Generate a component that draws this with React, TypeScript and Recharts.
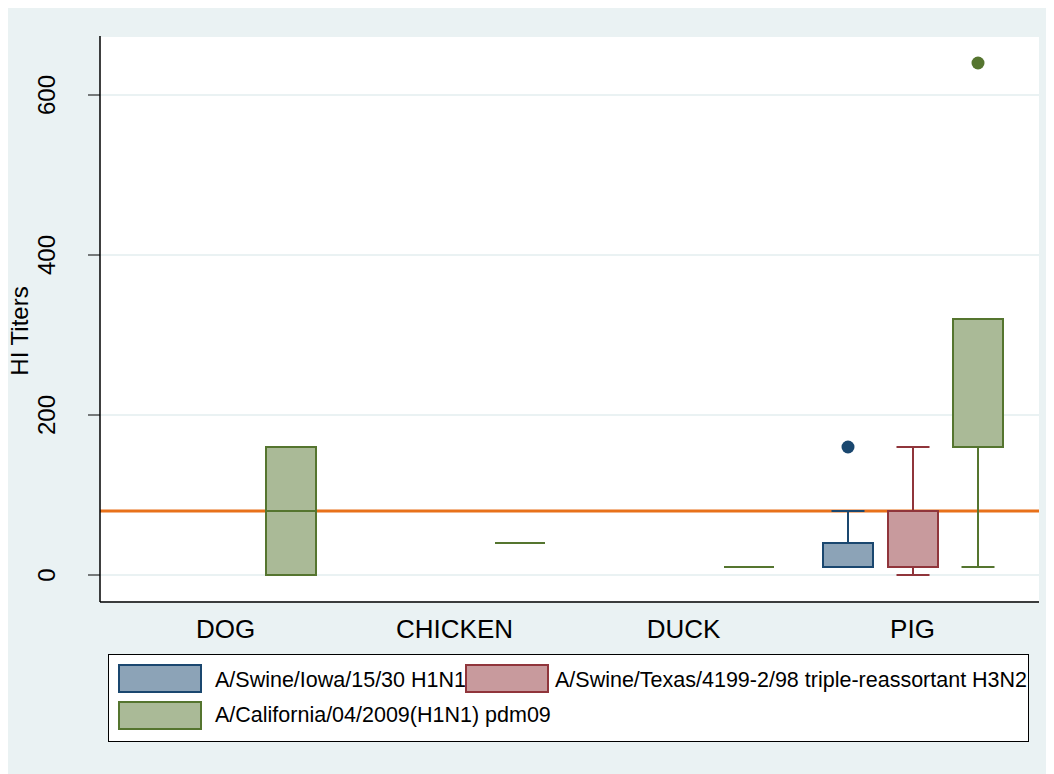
import { Bar, BarChart, CartesianGrid, ReferenceLine, XAxis, YAxis } from 'recharts';

const categories = ['DOG', 'CHICKEN', 'DUCK', 'PIG'];

// box statistics per strain, one entry per species (null = not tested)
const iowaLow = [null, null, null, 10];
const iowaQ1 = [null, null, null, 10];
const iowaMedian = [null, null, null, 10];
const iowaQ3 = [null, null, null, 40];
const iowaHigh = [null, null, null, 80];
const iowaOutliers = [[], [], [], [160]];

const texasLow = [null, null, null, 0];
const texasQ1 = [null, null, null, 10];
const texasMedian = [null, null, null, 10];
const texasQ3 = [null, null, null, 80];
const texasHigh = [null, null, null, 160];
const texasOutliers = [[], [], [], []];

const calLow = [0, 40, 10, 10];
const calQ1 = [0, 40, 10, 160];
const calMedian = [80, 40, 10, 160];
const calQ3 = [160, 40, 10, 320];
const calHigh = [160, 40, 10, 320];
const calOutliers = [[], [], [], [640]];

const yTicks = [0, 200, 400, 600];
const protectiveTiter = 80;

const FONT = '"Liberation Sans", Arial, Helvetica, sans-serif';
const BG = '#eaf2f3';

const series = [
  {
    key: 'iowa',
    name: 'A/Swine/Iowa/15/30 H1N1',
    stroke: '#1a476f',
    fill: '#8ca3b7',
    low: iowaLow,
    q1: iowaQ1,
    median: iowaMedian,
    q3: iowaQ3,
    high: iowaHigh,
    outliers: iowaOutliers,
  },
  {
    key: 'texas',
    name: 'A/Swine/Texas/4199-2/98 triple-reassortant H3N2',
    stroke: '#90353b',
    fill: '#c89a9d',
    low: texasLow,
    q1: texasQ1,
    median: texasMedian,
    q3: texasQ3,
    high: texasHigh,
    outliers: texasOutliers,
  },
  {
    key: 'cal',
    name: 'A/California/04/2009(H1N1) pdm09',
    stroke: '#55752f',
    fill: '#aaba97',
    low: calLow,
    q1: calQ1,
    median: calMedian,
    q3: calQ3,
    high: calHigh,
    outliers: calOutliers,
  },
];

type Series = (typeof series)[number];

// each bar runs from 0 up to the highest point of the box (whisker or outlier);
// the box shape then maps the other statistics onto that bar
const data = categories.map((name, i) => {
  const row: any = { name };
  series.forEach((s) => {
    if (s.high[i] == null) {
      row[s.key] = null;
      return;
    }
    row[s.key] = Math.max(s.high[i] as number, ...s.outliers[i]);
    row[`${s.key}Stats`] = {
      low: s.low[i],
      q1: s.q1[i],
      median: s.median[i],
      q3: s.q3[i],
      high: s.high[i],
      outliers: s.outliers[i],
    };
  });
  return row;
});

const BoxShape = (props: any) => {
  const { x, y, width, height, payload, s } = props as { s: Series } & any;
  const st = payload[`${s.key}Stats`];
  const top = payload[s.key];
  if (!st || !top) return null;
  const base = y + height;
  const py = (v: number) => base - (height * v) / top;
  const cx = x + width / 2;
  const cap = width * 0.66;
  const sw = 2;
  return (
    <g>
      {st.high > st.q3 && (
        <g stroke={s.stroke} strokeWidth={sw}>
          <line x1={cx} x2={cx} y1={py(st.q3)} y2={py(st.high)} />
          <line x1={cx - cap / 2} x2={cx + cap / 2} y1={py(st.high)} y2={py(st.high)} />
        </g>
      )}
      {st.low < st.q1 && (
        <g stroke={s.stroke} strokeWidth={sw}>
          <line x1={cx} x2={cx} y1={py(st.q1)} y2={py(st.low)} />
          <line x1={cx - cap / 2} x2={cx + cap / 2} y1={py(st.low)} y2={py(st.low)} />
        </g>
      )}
      <rect
        x={x}
        y={py(st.q3)}
        width={width}
        height={py(st.q1) - py(st.q3)}
        fill={s.fill}
        stroke={s.stroke}
        strokeWidth={sw}
      />
      <line x1={x} x2={x + width} y1={py(st.median)} y2={py(st.median)} stroke={s.stroke} strokeWidth={sw} />
      {st.outliers.map((o: number, k: number) => (
        <circle key={k} cx={cx} cy={py(o)} r={6.5} fill={s.stroke} />
      ))}
    </g>
  );
};

const YTick = ({ x, y, payload }: any) => (
  <text
    transform={`translate(${x - 31}, ${y}) rotate(-90)`}
    textAnchor="middle"
    fontSize={24}
    fontFamily={FONT}
    fill="#000"
  >
    {payload.value}
  </text>
);

const XTick = ({ x, y, payload }: any) => (
  <text x={x} y={y} dy={28} textAnchor="middle" fontSize={26} fontFamily={FONT} fill="#000">
    {payload.value}
  </text>
);

const YTitle = ({ viewBox }: any) => {
  const cy = viewBox.y + viewBox.height / 2 + 12;
  return (
    <text
      transform={`translate(20, ${cy}) rotate(-90)`}
      textAnchor="middle"
      fontSize={24}
      fontFamily={FONT}
      fill="#000"
    >
      HI Titers
    </text>
  );
};

const StrainLegend = () => {
  const rows = [
    { s: series[0], sx: 11, sy: 11, tx: 107, ty: 33 },
    { s: series[1], sx: 358, sy: 11, tx: 447, ty: 33 },
    { s: series[2], sx: 11, sy: 48, tx: 107, ty: 68 },
  ];
  return (
    <svg
      width={921}
      height={88}
      style={{ position: 'absolute', left: 100, top: 646, background: '#fff' }}
    >
      <rect x={0.5} y={0.5} width={920} height={87} fill="#fff" stroke="#000" strokeWidth={1} />
      {rows.map(({ s, sx, sy, tx, ty }) => (
        <g key={s.key}>
          <rect x={sx} y={sy} width={82} height={27} fill={s.fill} stroke={s.stroke} strokeWidth={2} />
          <text x={tx} y={ty} fontSize={21.5} fontFamily={FONT} fill="#000">
            {s.name}
          </text>
        </g>
      ))}
    </svg>
  );
};

export default function App() {
  return (
    <div style={{ position: 'relative', width: 1046, height: 766, background: BG }}>
      <BarChart
        width={1046}
        height={766}
        data={data}
        margin={{ top: 28, right: 15, left: 0, bottom: 122 }}
        barSize={50}
        barGap={15}
      >
        <CartesianGrid vertical={false} stroke={BG} strokeWidth={2} fill="#fff" />
        <XAxis
          dataKey="name"
          height={50}
          padding={{ left: 11, right: 12 }}
          tickLine={false}
          axisLine={{ stroke: '#000', strokeWidth: 1.5 }}
          tick={<XTick />}
          interval={0}
        />
        <YAxis
          width={92}
          type="number"
          domain={[-33.75, 673.75]}
          ticks={yTicks}
          allowDataOverflow
          tickSize={12}
          axisLine={{ stroke: '#000', strokeWidth: 1.5 }}
          tickLine={{ stroke: '#000' }}
          tick={<YTick />}
          label={<YTitle />}
        />
        <ReferenceLine y={protectiveTiter} stroke="#e8711a" strokeWidth={3} zIndex={200} />
        {series.map((s) => (
          <Bar
            key={s.key}
            dataKey={s.key}
            name={s.name}
            isAnimationActive={false}
            zIndex={300}
            shape={(p: any) => <BoxShape {...p} s={s} />}
          />
        ))}
      </BarChart>
      <StrainLegend />
    </div>
  );
}
